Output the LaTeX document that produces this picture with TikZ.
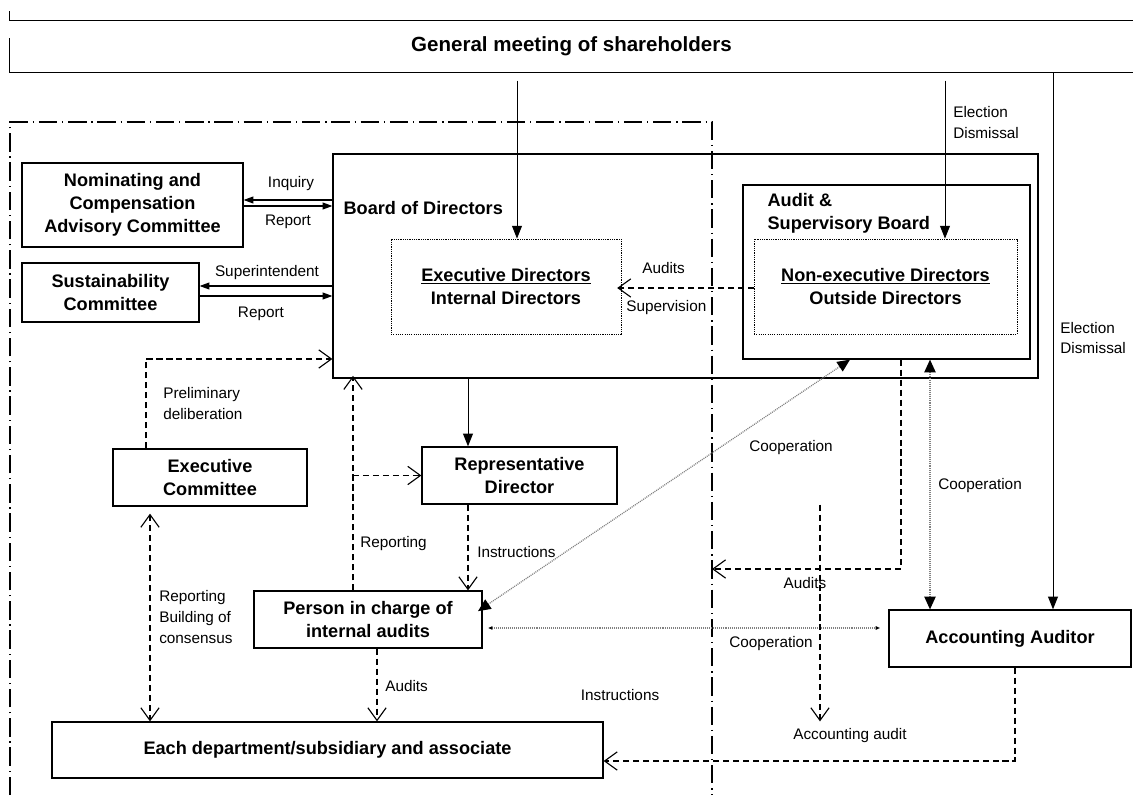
\documentclass[tikz,border=0pt]{standalone}
\usepackage{fontspec}
\setmainfont{Liberation Sans}
\usetikzlibrary{arrows.meta}

\begin{document}
\begin{tikzpicture}[x=0.025cm, y=-0.025cm,
        box/.style = {draw, line width=0.9pt, inner sep=0pt, align=center,
                      font=\fontsize{12.9}{16.4}\selectfont\bfseries},
        inbox/.style = {box, line width=0.6pt, dash pattern=on 0.8pt off 0.8pt},
        dims/.style 2 args = {minimum width=#1*0.025cm, minimum height=#2*0.025cm},
        lbl/.style = {inner sep=0pt, align=left, font=\fontsize{10.9}{14.6}\selectfont},
        solidarr/.style = {line width=0.7pt, -{Triangle[length=9pt,width=7pt]}},
        comarr/.style = {line width=0.8pt, -{Triangle[length=7pt,width=5pt]}},
        dasharr/.style = {line width=0.8pt, dash pattern=on 4.3pt off 2.8pt,
                          -{Straight Barb[length=9pt,width=13pt]}},
        coopline/.style = {draw=gray, line width=0.9pt, dash pattern=on 0.7pt off 0.7pt},
        frameline/.style = {line width=0.8pt, dash pattern=on 13pt off 3.5pt on 0.8pt off 3.5pt}]

    \useasboundingbox (0,0) rectangle (1133,801);

    \begin{scope}[every node/.style = {box}]
        \node[draw=none, dims={1123}{51}, font=\fontsize{14.6}{17}\selectfont\bfseries]
            (gms) at (571.5,46.5) {General meeting of shareholders};
        \node[dims={705}{224}] (board)  at (685.5,266) {};
        \node[dims={287}{174}] (asb)    at (886.5,272) {};
        \node[inbox, dims={230}{95}] (exe)    at (506,286.5)
            {\underline{Executive Directors}\\Internal Directors};
        \node[inbox, dims={263}{95}] (nonexe) at (885.5,286.5)
            {\underline{Non-executive Directors}\\Outside Directors};
        \node[draw=none, anchor=west] (boardlbl) at (343,208) {Board of Directors};
        \node[draw=none, anchor=west, align=left] (asblbl) at (767,213) {Audit \&\\Supervisory Board};
        \node[dims={221}{84}] (nom)    at (132.5,205)  {Nominating and\\Compensation\\Advisory Committee};
        \node[dims={177}{59}] (sus)    at (110.5,292.5) {Sustainability\\Committee};
        \node[dims={194}{57}] (exc)    at (210,477.5)  {Executive\\Committee};
        \node[dims={195}{57}] (rep)    at (519.5,475.5) {Representative\\Director};
        \node[dims={228}{57}] (person) at (368,619.5)  {Person in charge of\\internal audits};
        \node[dims={551}{56}] (dept)   at (327.5,750)  {Each department/subsidiary and associate};
        \node[dims={242}{57}] (acc)    at (1010,638.5) {Accounting Auditor};
    \end{scope}

    % shareholders frame and the dash-dot frame
    \draw[line width=0.9pt] (gms.north west) -- (gms.north east);
    \draw[line width=0.9pt] (gms.south west) -- (gms.south east);
    \draw[line width=0.9pt] (gms.south west) -- ++(0,-35);
    \draw[line width=0.9pt] (gms.north west) -- ++(0,-9);
    \coordinate (frtop) at (712,122);
    \draw[frameline] (10,795) -- (10,122) -- (frtop) -- (712,795);

    \begin{scope}[every node/.style = {lbl}]
        \draw[solidarr, shorten <=5.7pt] (gms.south -| 517,0) -- (517,0 |- exe.north);
        \draw[solidarr, shorten <=5.7pt] (gms.south -| 945,0) -- (945,0 |- nonexe.north);
        \draw[solidarr] (gms.south -| 1053,0) -- (1053,0 |- acc.north);
        \node[anchor=west] at (953,122.5) {Election\\Dismissal};
        \node[anchor=west] at (1060,338) {Election\\Dismissal};

        \draw[comarr] (board.west |- 0,200) -- (nom.east |- 0,200);
        \draw[comarr] (nom.east |- 0,206) -- (board.west |- 0,206);
        \node at (291,184) {Inquiry};
        \node at (288,222) {Report};
        \draw[comarr] (board.west |- 0,286) -- (sus.east |- 0,286);
        \draw[comarr] (sus.east |- 0,296) -- (board.west |- 0,296);
        \node at (267,273) {Superintendent};
        \node at (261,314) {Report};

        \draw[dasharr] (exc.north -| 146,0) |- (board.west |- 0,359);
        \node[anchor=west] at (163,403.5) {Preliminary\\deliberation};

        \draw[solidarr] (board.south -| 468,0) -- (468,0 |- rep.north);
        \draw[dasharr, shorten >=-2pt] (person.north -| 353,0) -- (353,0 |- board.south);
        \draw[dasharr] (353,0 |- rep.west) -- (rep.west);
        \node[anchor=west] at (360,544) {Reporting};
        \draw[dasharr] (rep.south -| 468,0) -- (468,0 |- person.north);
        \node[anchor=west] at (477,552) {Instructions};

        \draw[dasharr, {Straight Barb[length=9pt,width=13pt]}-{Straight Barb[length=9pt,width=13pt]},
              shorten <=5pt] (exc.south -| 150,0) -- (150,0 |- dept.north);
        \node[anchor=west] at (159,617) {Reporting\\Building of\\consensus};
        \draw[dasharr] (person.south -| 377,0) -- (377,0 |- dept.north);
        \node[anchor=west] at (385,686) {Audits};

        \draw[dasharr, shorten >=-3pt] (nonexe.west |- 0,288) -- (exe.east |- 0,288);
        \node[anchor=west] at (642,268) {Audits};
        \node[anchor=west] at (626,308) {Supervision};

        \draw[coopline, {Triangle[black,length=9pt,width=8pt]}-{Triangle[black,length=9pt,width=8pt]},
              shorten <=-4pt] (person.east |- 0,608) -- (asb.south -| 850,0);
        \node at (791,448) {Cooperation};
        \draw[coopline, {Triangle[black,length=9pt,width=8pt]}-{Triangle[black,length=9pt,width=8pt]}]
              (asb.south -| 930,0) -- (930,0 |- acc.north);
        \node[anchor=west] at (938,486) {Cooperation};
        \draw[coopline, {Triangle[black,length=3pt,width=2.5pt]}-{Triangle[black,length=3pt,width=2.5pt]},
              shorten <=4pt, shorten >=6pt] (person.east |- 0,628) -- (acc.west |- 0,628);
        \node at (771,644) {Cooperation};

        \draw[dasharr] (asb.south -| 901,0) |- (frtop |- 0,569);
        \node at (805,583) {Audits};
        \draw[dasharr] (820,0 |- rep.south) -- (820,0 |- dept.north);
        \node at (850,736) {Accounting audit};
        \draw[dasharr] (acc.south -| 1015,0) |- (dept.east |- 0,761);
        \node at (620,695) {Instructions};
    \end{scope}
\end{tikzpicture}
\end{document}
